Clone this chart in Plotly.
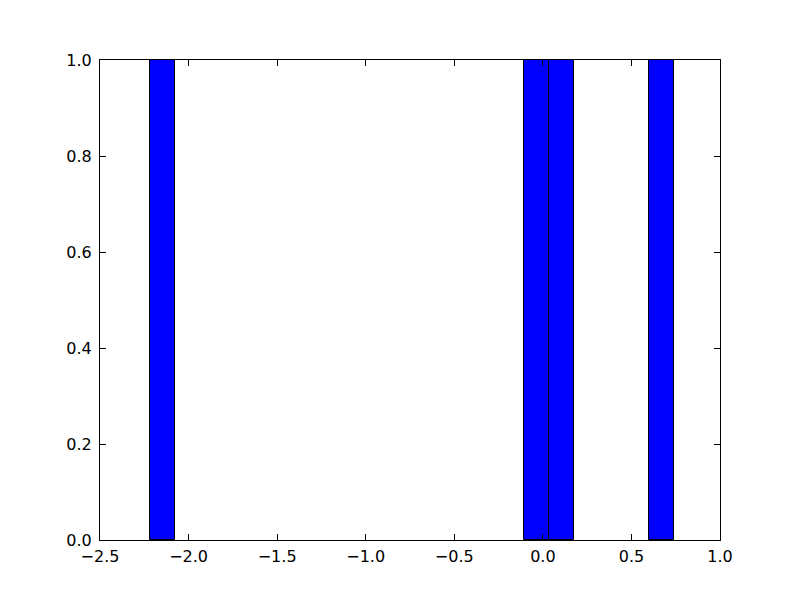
import numpy as np
import plotly.graph_objects as go

# Histogram
data_min = -2.218
data_max = 0.738
n_bins = 21
counts = [1, 0, 0, 0, 0, 0, 0, 0, 0, 0, 0, 0, 0, 0, 0, 1, 1, 0, 0, 0, 1]

x_ticks = [-2.5, -2.0, -1.5, -1.0, -0.5, 0.0, 0.5, 1.0]
y_ticks = [0.0, 0.2, 0.4, 0.6, 0.8, 1.0]

edges = np.linspace(data_min, data_max, n_bins + 1)
centers = (edges[:-1] + edges[1:]) / 2
width = edges[1] - edges[0]
cnt = np.array(counts)
mask = cnt > 0

fig = go.Figure()
fig.add_trace(go.Bar(
    x=centers[mask], y=cnt[mask], width=width,
    marker=dict(color="#0000ff", line=dict(color="black", width=1)),
))

axis_common = dict(
    showgrid=False, zeroline=False, showline=True, linecolor="black", linewidth=1,
    mirror="allticks", ticks="inside", ticklen=6, tickcolor="black", tickwidth=1,
    tickfont=dict(family="DejaVu Sans", size=16, color="black"),
    tickformat=".1f",
)
fig.update_xaxes(range=[-2.5, 1.0], tickvals=x_ticks, ticklabelstandoff=2, **axis_common)
fig.update_yaxes(range=[0, 1.0], tickvals=y_ticks, ticklabelstandoff=4, **axis_common)
fig.update_layout(
    width=800, height=600,
    margin=dict(l=92, r=88, t=52, b=68),
    plot_bgcolor="white", paper_bgcolor="white",
    showlegend=False, bargap=0,
)
fig.write_html("out.html")
